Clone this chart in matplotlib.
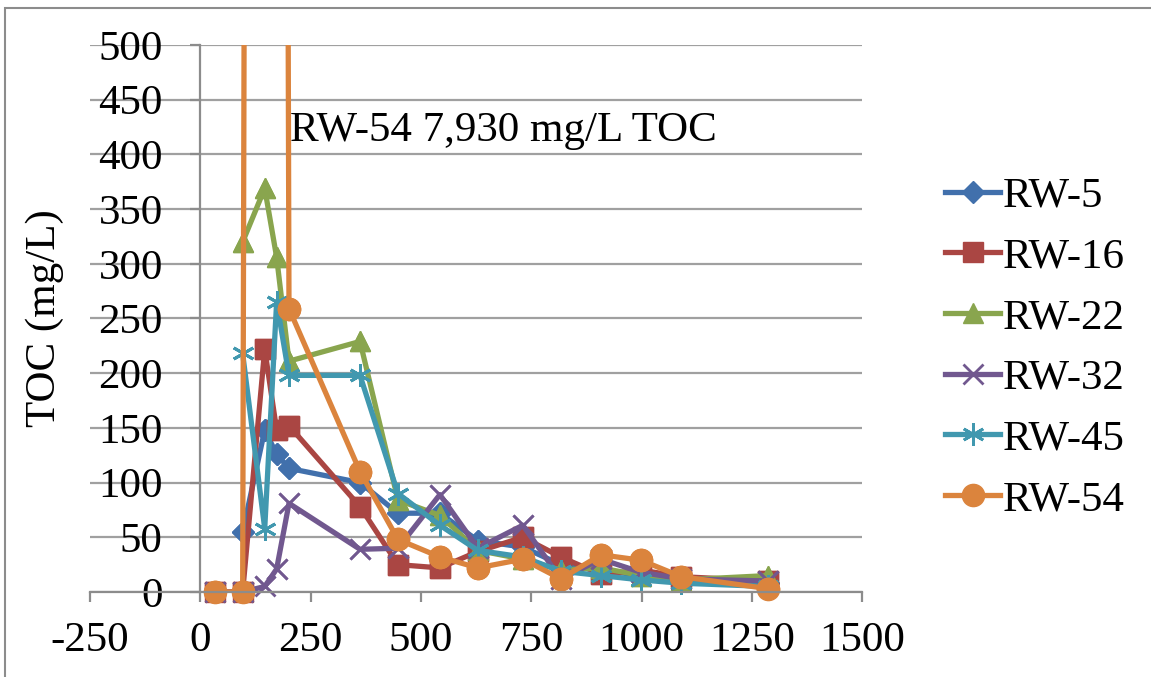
import matplotlib.pyplot as plt
from matplotlib.patches import Rectangle

plt.rcParams['font.family'] = ['Liberation Serif', 'DejaVu Serif']
plt.rcParams['axes.unicode_minus'] = False

days = [33, 96, 146, 173, 201, 362, 448, 543, 629, 731, 817, 908, 999, 1090, 1287]

rw5 = [None, 55, 148, 126, 113, 100, 72, 72, 47, 41, 25, 20, 15, 12, 8]
rw16 = [0, 0, 222, 148, 152, 78, 25, 22, 37, 50, 32, 16, 20, 14, 10]
rw22 = [None, 320, 369, 306, 211, 229, 84, 70, 38, 30, 20, 22, 15, 11, 15]
rw32 = [0, 0, 5, 21, 81, 39, 40, 89, 40, 61, 12, 30, 18, 12, 10]
rw45 = [None, 218, 58, 265, 198, 198, 90, 61, 38, 32, 19, 15, 11, 8, 5]
rw54 = [0, 0, 7930, None, 259, 110, 48, 32, 22, 30, 12, 34, 29, 14, 3]

names = ['RW-5', 'RW-16', 'RW-22', 'RW-32', 'RW-45', 'RW-54']
series = [rw5, rw16, rw22, rw32, rw45, rw54]
colors = ['#4170AC', '#AA4643', '#89A54E', '#71588F', '#4198AF', '#DB843D']
markers = ['D', 's', '^', 'x', (6, 2, 0), 'o']
msizes = [11, 14, 14, 15, 16, 16]

fig = plt.figure(figsize=(11.51, 6.77), dpi=100)
ax = fig.add_axes([0.0782, 0.1256, 0.749 - 0.0782, 0.9335 - 0.1256])

handles = []
for name, vals, c, m, ms in zip(names, series, colors, markers, msizes):
    xs = [d for d, v in zip(days, vals) if v is not None]
    ys = [v for v in vals if v is not None]
    mew = 2 if m in ('x', (6, 2, 0)) else 1
    h, = ax.plot(xs, ys, color=c, lw=3.8, marker=m, ms=ms, mec=c, mfc=c,
                 mew=mew, label=name, solid_joinstyle='round')
    # markers at the bottom edge are drawn whole, like Excel does
    px = [x for x, y in zip(xs, ys) if y <= 500]
    py = [y for y in ys if y <= 500]
    ax.plot(px, py, ls='none', marker=m, ms=ms, mec=c, mfc=c, mew=mew,
            clip_on=False, zorder=h.get_zorder())
    handles.append(h)

ax.set_xlim(-250, 1500)
ax.set_ylim(0, 500)
ax.set_xticks(range(-250, 1501, 250))
ax.set_yticks(range(0, 501, 50))
ax.grid(axis='y', color='#A0A0A0', lw=1.6)
ax.set_axisbelow(True)

ax.spines['left'].set_position(('data', 0))
for s in ['top', 'right']:
    ax.spines[s].set_visible(False)
for s in ['left', 'bottom']:
    ax.spines[s].set_color('#8C8C8C')
    ax.spines[s].set_linewidth(1.6)
ax.tick_params(axis='both', labelsize=31, color='#8C8C8C', width=1.6,
               length=7, direction='out')
ax.tick_params(axis='y', pad=20)
ax.tick_params(axis='x', pad=14)

ax.set_ylabel('TOC (mg/L)', fontsize=31)
ax.yaxis.set_label_coords(-0.034, 0.5)

ax.text(203, 422, 'RW-54 7,930 mg/L TOC', fontsize=31, va='center', ha='left')

fig.legend(handles=handles, loc='center left', bbox_to_anchor=(0.821, 0.486),
           frameon=False, fontsize=31, handlelength=1.28, handletextpad=0.06,
           labelspacing=0.5, borderpad=0, borderaxespad=0)

fig.add_artist(Rectangle((5 / 1151, -0.1), 1.2, 1 - 8 / 677 + 0.1,
                         transform=fig.transFigure, fill=False,
                         edgecolor='#8C8C8C', lw=1.5))

fig.savefig('out.png', dpi=100)
